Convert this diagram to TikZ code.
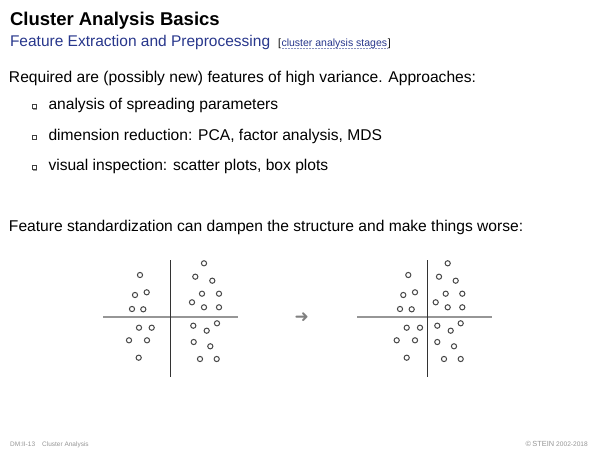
\documentclass[tikz,border=0pt]{standalone}
\usepackage{fontspec}
\setmainfont{Liberation Sans}
\newfontfamily\symfont{DejaVu Sans}
\definecolor{subblue}{RGB}{40,55,140}
\definecolor{linkblue}{RGB}{40,55,140}
\definecolor{footgray}{RGB}{150,150,150}
\definecolor{dotgray}{RGB}{70,70,70}
\definecolor{axisgray}{RGB}{150,150,150}
\begin{document}
\begin{tikzpicture}[x=1pt,y=-1pt,
  txt/.style={anchor=base west, inner sep=0pt, outer sep=0pt},
  bodyfont/.style={font=\fontsize{15.6}{18}\selectfont},
  pt/.style={draw=dotgray, line width=1pt},
  haxis/.style={draw=axisgray, line width=1.6pt},
  vaxis/.style={draw=black!80, line width=0.8pt},
  bulletbox/.style={draw=black!75, fill=white, line width=0.6pt, minimum size=4pt, inner sep=0pt},
  footer/.style={inner sep=0pt, font=\fontsize{6.5}{7}\selectfont, text=footgray}]
\fill[white] (0,0) rectangle (600,450);
\useasboundingbox (0,0) rectangle (600,450);

% header
\node[txt, font=\fontsize{18.5}{21}\selectfont\bfseries] (title) at (10,25) {Cluster Analysis Basics};
\node[txt, text=subblue, font=\fontsize{15.5}{18}\selectfont] (sub) at (10,46) {Feature Extraction and Preprocessing};
\node[txt, font=\fontsize{10.5}{12}\selectfont] (lbr) at (278,46) {[};
\node[txt, text=linkblue, font=\fontsize{10.5}{12}\selectfont] (lnk) at ([xshift=0.6pt]lbr.base east) {cluster analysis stages};
\node[txt, font=\fontsize{10.5}{12}\selectfont] (rbr) at ([xshift=0.6pt]lnk.base east) {]};
\draw[linkblue!55, densely dotted, line width=0.5pt] ([yshift=-1.8pt]lnk.base west) -- ([yshift=-1.8pt]lnk.base east);

% body
\node[txt, bodyfont] (req) at (9,82) {Required are (possibly new) features of high variance. Approaches:};
\foreach \n/\y/\t in {b1/109.5/{analysis of spreading parameters},
                      b2/140/{dimension reduction: PCA, factor analysis, MDS},
                      b3/170.5/{visual inspection: scatter plots, box plots}} {
  \fill[black!40] (32.6,\y-3.6) rectangle (36.6,\y+0.4);
  \node[bulletbox] (\n box) at (33.8,\y-2.8) {};
  \node[txt, bodyfont] (\n) at (48.5,\y) {\t};
}
\node[txt, bodyfont] (std) at (9,231) {Feature standardization can dampen the structure and make things worse:};

% left scatter plot
\coordinate (lw) at (103.3,317); \coordinate (le) at (237.7,317);
\coordinate (ln) at (170.3,260); \coordinate (ls) at (170.3,377);
\draw[haxis] (lw) -- (le);
\draw[vaxis] (ln) -- (ls);
\foreach \x/\y in {204/263.3,140/275,195.3/276.7,212.3/280.7,146.7/292.3,135/295,
  202/293.7,219/293.7,192/302.3,132/309,143.3/309.3,204/307.3,219/307.3,
  139/327.7,151.7/327.7,193.3/325.7,217/323.3,206.7/330.7,129/340.3,147/340.3,
  193.7/342,210.3/346.3,138.7/357.7,200/359,216.7/359}
  \draw[pt] (\x,\y) circle[radius=2.6];

% arrow
\node[inner sep=0pt, text=black!50, font=\symfont\fontsize{17}{17}\selectfont] (arr) at (301.7,318) {➜};

% right scatter plot
\coordinate (rw) at (357.3,317); \coordinate (re) at (491.7,317);
\coordinate (rn) at (427.3,260); \coordinate (rs) at (427.3,377);
\draw[haxis] (rw) -- (re);
\draw[vaxis] (rn) -- (rs);
\foreach \x/\y in {447.7/263.3,408.3/275,439/276.7,455.7/280.7,415/292.3,403.3/295,
  445.7/293.7,462.3/293.7,435.7/302.3,400/309,411.7/309.3,447.7/307.3,462.3/307.3,
  406.7/327.7,420/327.7,437.3/325.7,460.7/323.3,450.7/330.7,396.7/340.3,415/340.3,
  437.3/342,454/346.3,406.7/357.7,444/359,460.7/359}
  \draw[pt] (\x,\y) circle[radius=2.6];

% footer
\node[footer, anchor=base west] (f1) at (10,446) {DM:II-13\hspace{7pt}Cluster Analysis};
\node[footer, anchor=base east, font=\fontsize{7.4}{8}\selectfont] (f2) at (588,446) {©\,STEIN {\fontsize{6.6}{8}\selectfont 2002-2018}};
\end{tikzpicture}
\end{document}
